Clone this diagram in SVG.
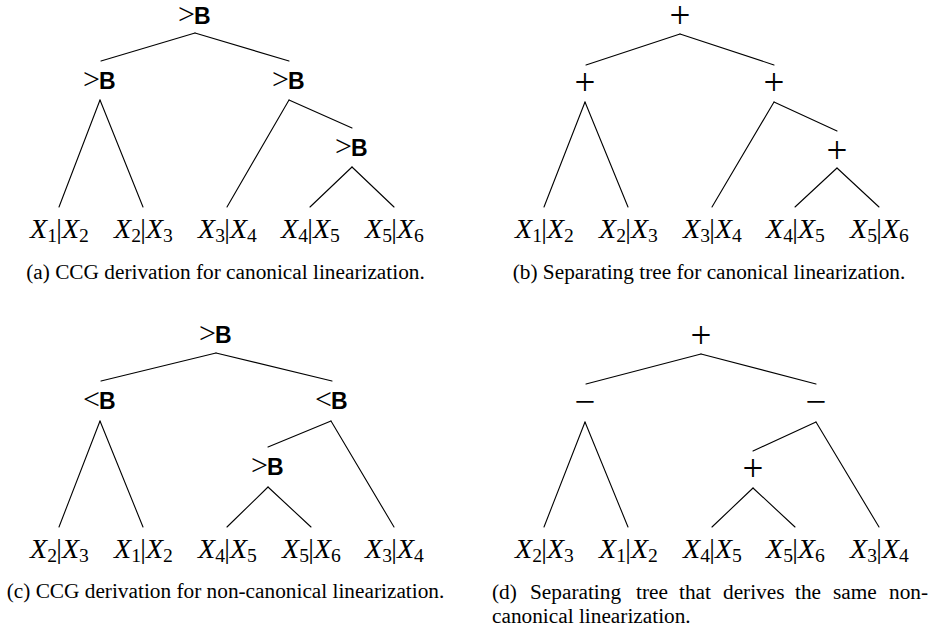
<svg xmlns="http://www.w3.org/2000/svg" width="932" height="630" viewBox="0 0 932 630">
<style>
.e{stroke:#000;stroke-width:1.1;fill:none;stroke-linecap:round}
.op{font-family:"Liberation Serif",serif;font-size:30px;text-anchor:end}
.B{font-family:"Liberation Sans",Arial,sans-serif;font-weight:bold;font-size:23px}
.sym{font-family:"Liberation Serif",serif;font-size:37px;text-anchor:middle}
.lf{font-family:"Liberation Serif",serif;font-style:italic;font-size:28px}
.sb{font-style:normal;font-size:19.6px}
.br{font-family:"Liberation Serif",serif;font-size:28px;text-anchor:middle}
.en{text-anchor:end}
.cap{font-family:"Liberation Serif",serif;font-size:21.3px}
.mid{text-anchor:middle}
</style>
<rect width="932" height="630" fill="#fff"/>
<g id="connectors">
<!-- (a) -->
<line class="e" x1="195" y1="33" x2="101" y2="61"/>
<line class="e" x1="195" y1="33" x2="289" y2="61"/>
<line class="e" x1="100" y1="100" x2="59" y2="207"/>
<line class="e" x1="100" y1="100" x2="143" y2="207"/>
<line class="e" x1="289" y1="100" x2="227" y2="207"/>
<line class="e" x1="289" y1="100" x2="352" y2="128"/>
<line class="e" x1="352" y1="167" x2="310" y2="207"/>
<line class="e" x1="352" y1="167" x2="394" y2="207"/>
<!-- (b) -->
<line class="e" x1="680" y1="34" x2="586" y2="65"/>
<line class="e" x1="680" y1="34" x2="774" y2="65"/>
<line class="e" x1="585" y1="102" x2="544" y2="207"/>
<line class="e" x1="585" y1="102" x2="628" y2="207"/>
<line class="e" x1="774" y1="102" x2="712" y2="207"/>
<line class="e" x1="774" y1="102" x2="837" y2="131"/>
<line class="e" x1="837" y1="168" x2="795" y2="207"/>
<line class="e" x1="837" y1="168" x2="879" y2="207"/>
<!-- (c) -->
<line class="e" x1="216" y1="353" x2="101" y2="381"/>
<line class="e" x1="216" y1="353" x2="332" y2="381"/>
<line class="e" x1="100" y1="421" x2="59" y2="527"/>
<line class="e" x1="100" y1="421" x2="143" y2="527"/>
<line class="e" x1="331" y1="421" x2="268" y2="447"/>
<line class="e" x1="331" y1="421" x2="394" y2="527"/>
<line class="e" x1="268" y1="487" x2="227" y2="527"/>
<line class="e" x1="268" y1="487" x2="311" y2="527"/>
<!-- (d) -->
<line class="e" x1="701" y1="354" x2="586" y2="384"/>
<line class="e" x1="701" y1="354" x2="816" y2="384"/>
<line class="e" x1="585" y1="422" x2="544" y2="527"/>
<line class="e" x1="585" y1="422" x2="628" y2="527"/>
<line class="e" x1="816" y1="422" x2="753" y2="451"/>
<line class="e" x1="816" y1="422" x2="879" y2="527"/>
<line class="e" x1="753" y1="488" x2="712" y2="527"/>
<line class="e" x1="753" y1="488" x2="795" y2="527"/>
</g>
<!-- (a) internal nodes -->
<g id="a-root"><text class="op" x="195" y="24">&gt;</text><text class="B" x="194" y="24">B</text></g>
<g id="a-n1"><text class="op" x="100" y="89">&gt;</text><text class="B" x="99" y="89">B</text></g>
<g id="a-n2"><text class="op" x="289" y="89">&gt;</text><text class="B" x="288" y="89">B</text></g>
<g id="a-n3"><text class="op" x="352" y="156">&gt;</text><text class="B" x="351" y="156">B</text></g>
<!-- (a) leaves -->
<g id="a-l1"><text class="lf en" x="57" y="238">X<tspan class="sb" dy="4">1</tspan></text><text class="br" x="59" y="238">|</text><text class="lf" x="62" y="238">X<tspan class="sb" dy="4">2</tspan></text></g>
<g id="a-l2"><text class="lf en" x="141" y="238">X<tspan class="sb" dy="4">2</tspan></text><text class="br" x="143" y="238">|</text><text class="lf" x="146" y="238">X<tspan class="sb" dy="4">3</tspan></text></g>
<g id="a-l3"><text class="lf en" x="225" y="238">X<tspan class="sb" dy="4">3</tspan></text><text class="br" x="227" y="238">|</text><text class="lf" x="230" y="238">X<tspan class="sb" dy="4">4</tspan></text></g>
<g id="a-l4"><text class="lf en" x="308" y="238">X<tspan class="sb" dy="4">4</tspan></text><text class="br" x="310" y="238">|</text><text class="lf" x="313" y="238">X<tspan class="sb" dy="4">5</tspan></text></g>
<g id="a-l5"><text class="lf en" x="392" y="238">X<tspan class="sb" dy="4">5</tspan></text><text class="br" x="394" y="238">|</text><text class="lf" x="397" y="238">X<tspan class="sb" dy="4">6</tspan></text></g>
<!-- (b) internal nodes -->
<g id="b-root"><text class="sym" x="680" y="28">+</text></g>
<g id="b-n1"><text class="sym" x="585" y="95">+</text></g>
<g id="b-n2"><text class="sym" x="774" y="95">+</text></g>
<g id="b-n3"><text class="sym" x="837" y="163">+</text></g>
<!-- (b) leaves -->
<g id="b-l1"><text class="lf en" x="542" y="238">X<tspan class="sb" dy="4">1</tspan></text><text class="br" x="544" y="238">|</text><text class="lf" x="547" y="238">X<tspan class="sb" dy="4">2</tspan></text></g>
<g id="b-l2"><text class="lf en" x="626" y="238">X<tspan class="sb" dy="4">2</tspan></text><text class="br" x="628" y="238">|</text><text class="lf" x="631" y="238">X<tspan class="sb" dy="4">3</tspan></text></g>
<g id="b-l3"><text class="lf en" x="710" y="238">X<tspan class="sb" dy="4">3</tspan></text><text class="br" x="712" y="238">|</text><text class="lf" x="715" y="238">X<tspan class="sb" dy="4">4</tspan></text></g>
<g id="b-l4"><text class="lf en" x="793" y="238">X<tspan class="sb" dy="4">4</tspan></text><text class="br" x="795" y="238">|</text><text class="lf" x="798" y="238">X<tspan class="sb" dy="4">5</tspan></text></g>
<g id="b-l5"><text class="lf en" x="877" y="238">X<tspan class="sb" dy="4">5</tspan></text><text class="br" x="879" y="238">|</text><text class="lf" x="882" y="238">X<tspan class="sb" dy="4">6</tspan></text></g>
<!-- (c) internal nodes -->
<g id="c-root"><text class="op" x="216" y="343">&gt;</text><text class="B" x="215" y="343">B</text></g>
<g id="c-n1"><text class="op" x="100" y="409">&lt;</text><text class="B" x="99" y="409">B</text></g>
<g id="c-n2"><text class="op" x="332" y="409">&lt;</text><text class="B" x="331" y="409">B</text></g>
<g id="c-n3"><text class="op" x="268" y="475">&gt;</text><text class="B" x="267" y="475">B</text></g>
<!-- (c) leaves -->
<g id="c-l1"><text class="lf en" x="57" y="558">X<tspan class="sb" dy="4">2</tspan></text><text class="br" x="59" y="558">|</text><text class="lf" x="62" y="558">X<tspan class="sb" dy="4">3</tspan></text></g>
<g id="c-l2"><text class="lf en" x="141" y="558">X<tspan class="sb" dy="4">1</tspan></text><text class="br" x="143" y="558">|</text><text class="lf" x="146" y="558">X<tspan class="sb" dy="4">2</tspan></text></g>
<g id="c-l3"><text class="lf en" x="225" y="558">X<tspan class="sb" dy="4">4</tspan></text><text class="br" x="227" y="558">|</text><text class="lf" x="230" y="558">X<tspan class="sb" dy="4">5</tspan></text></g>
<g id="c-l4"><text class="lf en" x="309" y="558">X<tspan class="sb" dy="4">5</tspan></text><text class="br" x="311" y="558">|</text><text class="lf" x="314" y="558">X<tspan class="sb" dy="4">6</tspan></text></g>
<g id="c-l5"><text class="lf en" x="392" y="558">X<tspan class="sb" dy="4">3</tspan></text><text class="br" x="394" y="558">|</text><text class="lf" x="397" y="558">X<tspan class="sb" dy="4">4</tspan></text></g>
<!-- (d) internal nodes -->
<g id="d-root"><text class="sym" x="701" y="348">+</text></g>
<g id="d-n1"><text class="sym" x="585" y="414">−</text></g>
<g id="d-n2"><text class="sym" x="816" y="414">−</text></g>
<g id="d-n3"><text class="sym" x="753" y="481">+</text></g>
<!-- (d) leaves -->
<g id="d-l1"><text class="lf en" x="542" y="558">X<tspan class="sb" dy="4">2</tspan></text><text class="br" x="544" y="558">|</text><text class="lf" x="547" y="558">X<tspan class="sb" dy="4">3</tspan></text></g>
<g id="d-l2"><text class="lf en" x="626" y="558">X<tspan class="sb" dy="4">1</tspan></text><text class="br" x="628" y="558">|</text><text class="lf" x="631" y="558">X<tspan class="sb" dy="4">2</tspan></text></g>
<g id="d-l3"><text class="lf en" x="710" y="558">X<tspan class="sb" dy="4">4</tspan></text><text class="br" x="712" y="558">|</text><text class="lf" x="715" y="558">X<tspan class="sb" dy="4">5</tspan></text></g>
<g id="d-l4"><text class="lf en" x="793" y="558">X<tspan class="sb" dy="4">5</tspan></text><text class="br" x="795" y="558">|</text><text class="lf" x="798" y="558">X<tspan class="sb" dy="4">6</tspan></text></g>
<g id="d-l5"><text class="lf en" x="877" y="558">X<tspan class="sb" dy="4">3</tspan></text><text class="br" x="879" y="558">|</text><text class="lf" x="882" y="558">X<tspan class="sb" dy="4">4</tspan></text></g>
<!-- captions -->
<g id="captions">
<text class="cap mid" x="225.5" y="279">(a) CCG derivation for canonical linearization.</text>
<text class="cap mid" x="709" y="279">(b) Separating tree for canonical linearization.</text>
<text class="cap mid" x="225.5" y="598">(c) CCG derivation for non-canonical linearization.</text>
<text class="cap" y="599"><tspan x="492">(d)</tspan> <tspan x="530">Separating</tspan> <tspan x="636">tree</tspan> <tspan x="679">that</tspan> <tspan x="723">derives</tspan> <tspan x="795">the</tspan> <tspan x="833">same</tspan> <tspan x="889">non-</tspan></text>
<text class="cap" x="492" y="623">canonical linearization.</text>
</g>
</svg>
